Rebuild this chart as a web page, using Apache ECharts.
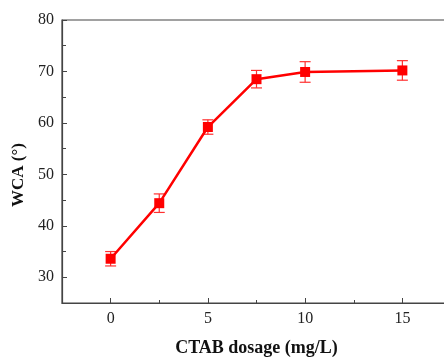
<!DOCTYPE html>
<html>
<head>
<meta charset="utf-8">
<script src="https://cdn.jsdelivr.net/npm/echarts@6/dist/echarts.min.js"></script>
<style>
  html, body { margin: 0; padding: 0; background: #fff; }
  #chart { width: 444px; height: 357px; }
</style>
</head>
<body>
<div id="chart"></div>
<script>
const dosage = [0, 2.5, 5, 7.5, 10, 15];
const wca = [33.6, 44.4, 59.2, 68.5, 69.9, 70.2];
const wcaErr = [1.4, 1.8, 1.4, 1.7, 2.0, 1.9];
const xMajorTicks = [0, 5, 10, 15];
const xMinorTicks = [2.5, 7.5, 12.5];
const yMajorTicks = [30, 40, 50, 60, 70, 80];
const yMinorTicks = [35, 45, 55, 65, 75];

const chart = echarts.init(document.getElementById('chart'));
const axisColor = '#444';
const font = '"Liberation Serif", "Times New Roman", serif';

const baseX = { type: 'value', min: -2.5, max: 17.5, position: 'bottom', splitLine: { show: false } };
const baseY = { type: 'value', min: 25, max: 80, position: 'left', splitLine: { show: false } };

const option = {
  animation: false,
  backgroundColor: '#fff',
  // frame box; right edge falls just outside the picture like the cropped original
  grid: {
    left: 62, top: 20, right: -7, bottom: 54,
    outerBoundsMode: 'none', containLabel: false,
    show: true, borderColor: axisColor, borderWidth: 1.2
  },
  xAxis: [
    Object.assign({}, baseX, {
      name: 'CTAB dosage (mg/L)',
      nameLocation: 'middle',
      nameGap: 36,
      nameTextStyle: { fontFamily: font, fontWeight: 'bold', fontSize: 18, color: '#111' },
      axisLine: { onZero: false, lineStyle: { color: axisColor, width: 1.2 } },
      axisTick: { inside: true, length: 5, lineStyle: { color: axisColor }, customValues: xMajorTicks },
      axisLabel: { fontFamily: font, fontSize: 16, color: '#222', margin: 8, customValues: xMajorTicks }
    }),
    Object.assign({}, baseX, {
      axisLine: { show: false, onZero: false },
      axisTick: { inside: true, length: 3, lineStyle: { color: axisColor }, customValues: xMinorTicks },
      axisLabel: { show: false }
    })
  ],
  yAxis: [
    Object.assign({}, baseY, {
      name: 'WCA (°)',
      nameLocation: 'middle',
      nameGap: 21,
      nameTextStyle: { fontFamily: font, fontWeight: 'bold', fontSize: 17, color: '#111', padding: [0, 27, 0, 0] },
      axisLine: { show: true, onZero: false, lineStyle: { color: axisColor, width: 1.2 } },
      axisTick: { show: true, inside: true, length: 5, lineStyle: { color: axisColor }, customValues: yMajorTicks },
      axisLabel: { fontFamily: font, fontSize: 16, color: '#222', margin: 8, customValues: yMajorTicks }
    }),
    Object.assign({}, baseY, {
      axisLine: { show: false, onZero: false },
      axisTick: { show: true, inside: true, length: 4, lineStyle: { color: axisColor }, customValues: yMinorTicks },
      axisLabel: { show: false }
    })
  ],
  series: [
    {
      type: 'line',
      xAxisIndex: 0,
      yAxisIndex: 0,
      data: dosage.map((x, i) => [x, wca[i]]),
      symbol: 'rect',
      symbolSize: 10,
      itemStyle: { color: '#ff0000' },
      lineStyle: { color: '#ff0000', width: 2.5 },
      z: 3
    },
    {
      type: 'custom',
      xAxisIndex: 0,
      yAxisIndex: 0,
      data: dosage.map((x, i) => [x, wca[i] - wcaErr[i], wca[i] + wcaErr[i]]),
      renderItem: function (params, api) {
        const lo = api.coord([api.value(0), api.value(1)]);
        const hi = api.coord([api.value(0), api.value(2)]);
        const hw = 5.5;
        const style = { stroke: '#ff3030', lineWidth: 1.2, fill: null };
        return {
          type: 'group',
          children: [
            { type: 'line', shape: { x1: lo[0], y1: lo[1], x2: hi[0], y2: hi[1] }, style: style },
            { type: 'line', shape: { x1: lo[0] - hw, y1: lo[1], x2: lo[0] + hw, y2: lo[1] }, style: style },
            { type: 'line', shape: { x1: hi[0] - hw, y1: hi[1], x2: hi[0] + hw, y2: hi[1] }, style: style }
          ]
        };
      },
      z: 2
    }
  ]
};

chart.setOption(option);
</script>
</body>
</html>
